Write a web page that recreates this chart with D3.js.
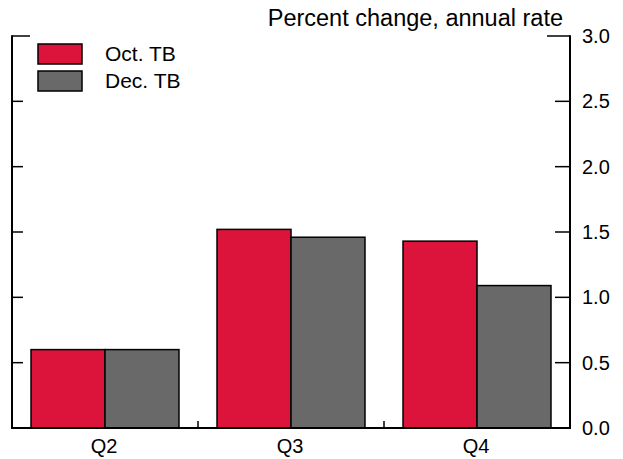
<!DOCTYPE html>
<html>
<head>
<script src="https://cdn.jsdelivr.net/npm/d3@7"></script>
<style>
  body { margin: 0; background: #fff; }
  text { font-family: "Liberation Sans", Arial, sans-serif; fill: #000; }
</style>
</head>
<body>
<svg id="chart" width="623" height="459"></svg>
<script>
// data
var quarters = ["Q2", "Q3", "Q4"];
var seriesNames = ["Oct. TB", "Dec. TB"];
var octValues = [0.6, 1.52, 1.43];
var decValues = [0.6, 1.46, 1.09];
var yTicks = [0, 0.5, 1.0, 1.5, 2.0, 2.5, 3.0];
var colors = ["#DC143C", "#696969"];

var plotLeft = 12, plotRight = 570, plotTop = 36, plotBottom = 428;
var svg = d3.select("#chart");

var x0 = d3.scaleBand().domain(quarters).range([plotLeft, plotRight]).padding(0);
var x1 = d3.scaleBand().domain(seriesNames).range([0, x0.bandwidth()])
    .paddingInner(0).paddingOuter(0.257);
var y = d3.scaleLinear().domain([0, 3]).range([plotBottom, plotTop]);

var rows = quarters.map(function(q, i) {
    return { q: q, vals: [octValues[i], decValues[i]] };
});

// bars
var g = svg.selectAll("g.grp").data(rows).enter().append("g")
    .attr("class", "grp")
    .attr("transform", function(d) { return "translate(" + x0(d.q) + ",0)"; });

g.selectAll("rect").data(function(d) {
    return d.vals.map(function(v, j) { return { name: seriesNames[j], v: v, j: j }; });
}).enter().append("rect")
    .attr("x", function(d) { return x1(d.name); })
    .attr("y", function(d) { return y(d.v); })
    .attr("width", x1.bandwidth())
    .attr("height", function(d) { return y(0) - y(d.v); })
    .attr("fill", function(d) { return colors[d.j]; })
    .attr("stroke", "#000")
    .attr("stroke-width", 1.5);

// right axis labels
var rightAxis = d3.axisRight(y).tickValues(yTicks)
    .tickFormat(d3.format(".1f")).tickSize(0).tickPadding(12);
var ra = svg.append("g").attr("transform", "translate(" + plotRight + ",0)").call(rightAxis);
ra.select(".domain").remove();
ra.selectAll("text").style("font-size", "20px").style("font-family", "Liberation Sans, Arial, sans-serif");

// tick marks drawn inward on both sides
var innerTicks = yTicks.filter(function(t) { return t > 0; });
svg.selectAll("line.rt").data(innerTicks).enter()
    .append("line").attr("class", "rt")
    .attr("x1", function(d) { return d === 3 ? plotRight - 23 : plotRight - 15; })
    .attr("x2", plotRight)
    .attr("y1", function(d) { return y(d); })
    .attr("y2", function(d) { return y(d); })
    .attr("stroke", "#000").attr("stroke-width", 1.5);

svg.selectAll("line.lt").data(innerTicks).enter()
    .append("line").attr("class", "lt")
    .attr("x1", plotLeft)
    .attr("x2", function(d) { return d === 3 ? plotLeft + 18 : plotLeft + 11; })
    .attr("y1", function(d) { return y(d); })
    .attr("y2", function(d) { return y(d); })
    .attr("stroke", "#000").attr("stroke-width", 1.5);

// vertical axis lines
[plotLeft, plotRight].forEach(function(xx) {
    svg.append("line").attr("x1", xx).attr("x2", xx)
        .attr("y1", y(3) - 0.75).attr("y2", y(0))
        .attr("stroke", "#000").attr("stroke-width", 2);
});

// bottom axis
svg.append("line").attr("x1", plotLeft - 1).attr("x2", plotRight + 1)
    .attr("y1", y(0)).attr("y2", y(0))
    .attr("stroke", "#000").attr("stroke-width", 2);

svg.selectAll("line.bt").data(quarters.slice(1)).enter().append("line").attr("class", "bt")
    .attr("x1", function(d) { return x0(d); })
    .attr("x2", function(d) { return x0(d); })
    .attr("y1", y(0)).attr("y2", y(0) - 7)
    .attr("stroke", "#000").attr("stroke-width", 1.5);

svg.selectAll("text.q").data(quarters).enter().append("text").attr("class", "q")
    .attr("x", function(d) { return x0(d) + x0.bandwidth() / 2 - 1; })
    .attr("y", y(0) + 25)
    .attr("text-anchor", "middle")
    .style("font-size", "20px")
    .text(function(d) { return d; });

// title
svg.append("text").attr("x", 563).attr("y", 26)
    .attr("text-anchor", "end").style("font-size", "23.5px")
    .text("Percent change, annual rate");

// legend
var lg = svg.selectAll("g.leg").data(seriesNames).enter().append("g").attr("class", "leg")
    .attr("transform", function(d, i) { return "translate(38," + (44 + i * 27) + ")"; });
lg.append("rect").attr("width", 44).attr("height", 20)
    .attr("fill", function(d, i) { return colors[i]; })
    .attr("stroke", "#000").attr("stroke-width", 1.5);
lg.append("text").attr("x", 67).attr("y", 17)
    .style("font-size", "21px")
    .text(function(d) { return d; });
</script>
</body>
</html>
